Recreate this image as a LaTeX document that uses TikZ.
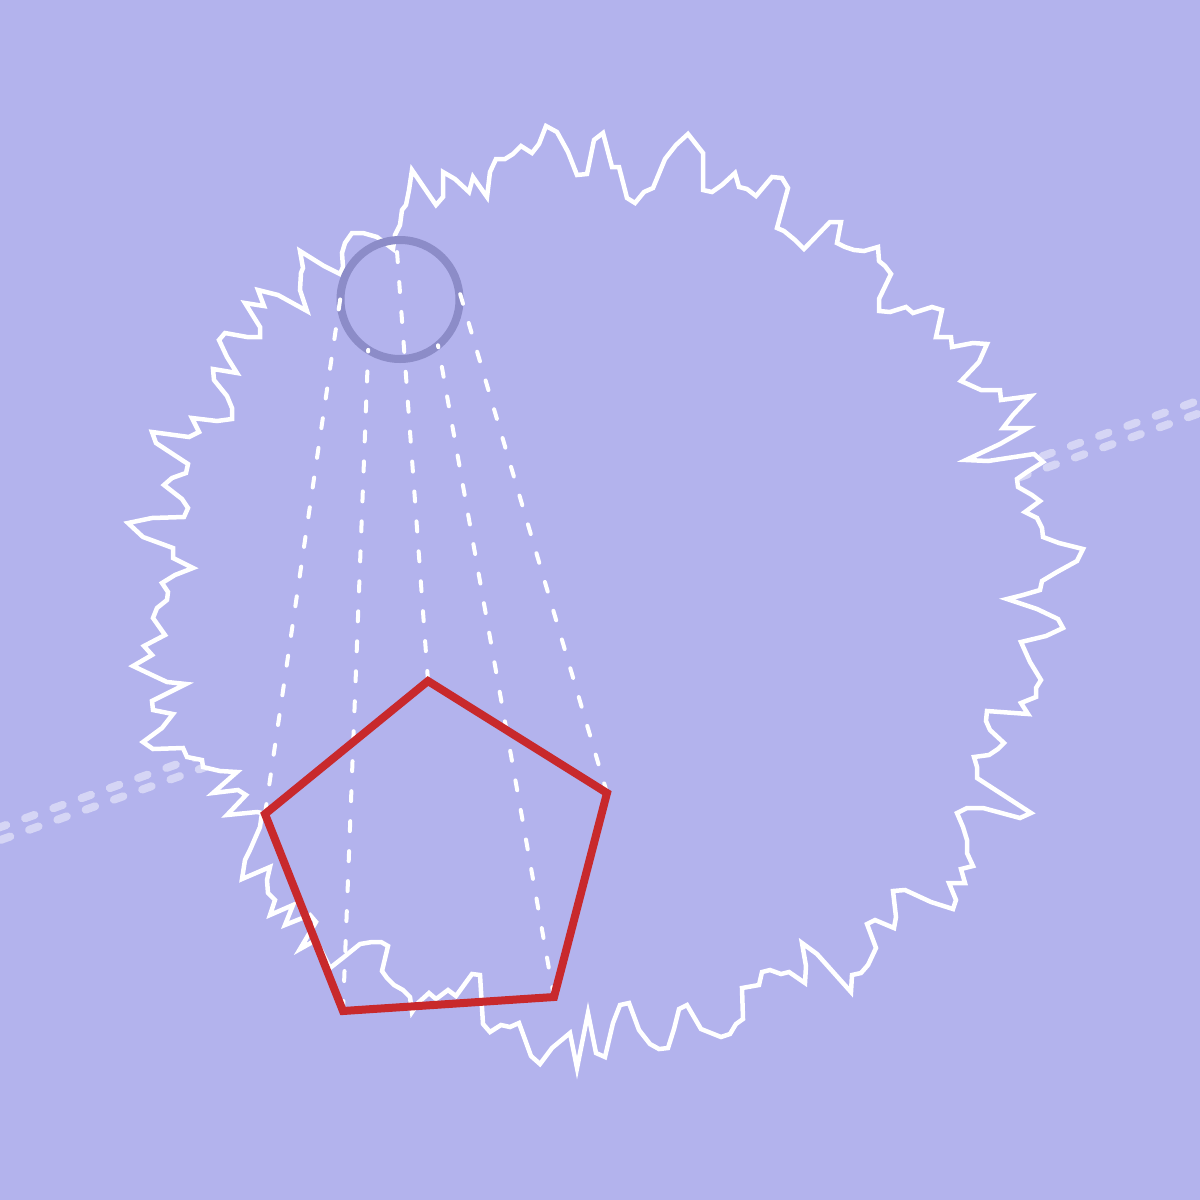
\documentclass[tikz,border=0pt]{standalone}
\usetikzlibrary{calc}
\definecolor{bgcol}{HTML}{B3B3ED}
\definecolor{ringcol}{HTML}{8C8CC8}
\definecolor{pentcol}{HTML}{C8292C}
\tikzset{
  outlinestyle/.style={draw=white, fill=bgcol, line width=4.5pt, line join=miter},
  ringstyle/.style={draw=ringcol, line width=8pt},
  projline/.style={draw=white, line width=4pt, line cap=round, dash pattern=on 10pt off 20pt},
  trackline/.style={draw=white, draw opacity=0.45, line width=8pt, line cap=round, dash pattern=on 10pt off 20pt, dash phase=10pt},
  pentstyle/.style={draw=pentcol, line width=8pt, line join=miter},
}
\begin{document}
\begin{tikzpicture}[x=1pt,y=-1pt]
\useasboundingbox (0,0) rectangle (1200,1200);
\fill[bgcol] (0,0) rectangle (1200,1200);
% track (double dashed)
\coordinate (tu1) at (-22.04,835.05);
\coordinate (tu2) at (1217.96,393.65);
\coordinate (tl1) at (-17.96,846.55);
\coordinate (tl2) at (1222.04,405.15);
\draw[trackline] (tu1) -- (tu2);
\draw[trackline] (tl1) -- (tl2);
% jagged outline
\path[outlinestyle] (393,249) -- (395,235) -- (400,225) -- (402,210) -- (406,205) -- (409,190) -- (412,170) -- (436,205) -- (443,197) -- (443,172) -- (455,179) -- (469,192) -- (473,177) -- (487,197) -- (490,172) -- (496,159) -- (505,159) -- (513,154) -- (521,146) -- (532,153) -- (539,144) -- (546,126) -- (557,132) -- (568,152) -- (577,175) -- (587,174) -- (594,140) -- (603,133) -- (612,167) -- (619,167) -- (627,198) -- (635,203) -- (644,192) -- (653,188) -- (665,159) -- (676,145) -- (688,134) -- (703,153) -- (703,190) -- (712,192) -- (722,185) -- (735,173) -- (739,187) -- (747,189) -- (756,196) -- (772,177) -- (782,178) -- (788,188) -- (777,228) -- (784,231) -- (795,240) -- (804,249) -- (830,222) -- (841,222) -- (837,243) -- (845,247) -- (854,250) -- (864,251) -- (878,247) -- (879,261) -- (885,266) -- (891,274) -- (879,299) -- (879,311) -- (890,312) -- (906,307) -- (913,313) -- (932,307) -- (942,310) -- (936,337) -- (951,337) -- (952,347) -- (973,343) -- (987,344) -- (979,362) -- (961,381) -- (981,390) -- (1000,390) -- (1001,400) -- (1031,396) -- (1013,415) -- (1003,428) -- (1028,428) -- (1000,444) -- (966,460) -- (988,461) -- (1034,454) -- (1043,462) -- (1027,472) -- (1017,479) -- (1018,487) -- (1032,495) -- (1040,501) -- (1025,512) -- (1037,518) -- (1042,528) -- (1043,537) -- (1059,543) -- (1083,549) -- (1077,561) -- (1057,572) -- (1042,581) -- (1040,590) -- (1023,595) -- (1007,599) -- (1037,609) -- (1058,619) -- (1063,628) -- (1046,636) -- (1021,642) -- (1030,662) -- (1041,680) -- (1036,688) -- (1036,697) -- (1021,703) -- (1028,714) -- (987,711) -- (986,721) -- (990,730) -- (1004,743) -- (998,749) -- (989,755) -- (974,757) -- (977,767) -- (977,778) -- (1031,813) -- (1020,818) -- (983,808) -- (967,808) -- (957,813) -- (963,827) -- (967,840) -- (967,853) -- (973,866) -- (961,869) -- (965,883) -- (949,883) -- (956,900) -- (953,909) -- (931,902) -- (905,890) -- (893,891) -- (896,917) -- (894,928) -- (875,920) -- (867,924) -- (876,948) -- (868,965) -- (861,973) -- (852,975) -- (851,992) -- (817,954) -- (802,943) -- (806,966) -- (805,983) -- (789,972) -- (781,974) -- (770,970) -- (762,972) -- (759,985) -- (742,988) -- (743,1019) -- (736,1024) -- (730,1034) -- (721,1037) -- (701,1029) -- (687,1005) -- (679,1009) -- (674,1029) -- (668,1048) -- (659,1049) -- (650,1044) -- (639,1030) -- (629,1003) -- (620,1005) -- (613,1023) -- (605,1057) -- (596,1053) -- (588,1013) -- (577,1068) -- (570,1033) -- (552,1048) -- (540,1064) -- (531,1056) -- (519,1023) -- (510,1027) -- (501,1025) -- (490,1032) -- (483,1024) -- (480,975) -- (472,974) -- (456,996) -- (448,990) -- (436,999) -- (429,993) -- (418,1003) -- (412,1012) -- (410,997) -- (403,990) -- (394,985) -- (387,978) -- (382,971) -- (388,946) -- (381,942) -- (372,942) -- (360,944) -- (344,957) -- (330,968) -- (316,940) -- (300,949) -- (316,922) -- (310,915) -- (285,925) -- (293,905) -- (270,915) -- (275,900) -- (268,893) -- (267,880) -- (270,867) -- (242,879) -- (245,860) -- (250,850) -- (260,827) -- (262,813) -- (257,812) -- (227,815) -- (246,795) -- (238,790) -- (213,793) -- (237,772) -- (220,771) -- (203,767) -- (202,760) -- (187,757) -- (183,748) -- (153,749) -- (143,742) -- (162,728) -- (173,714) -- (153,710) -- (152,701) -- (186,684) -- (167,682) -- (152,675) -- (133,666) -- (152,655) -- (144,646) -- (165,635) -- (153,618) -- (157,608) -- (167,600) -- (168,592) -- (162,583) -- (175,575) -- (193,568) -- (173,558) -- (173,548) -- (143,537) -- (128,523) -- (152,518) -- (184,517) -- (188,508) -- (182,499) -- (164,485) -- (172,478) -- (186,473) -- (188,464) -- (156,443) -- (152,432) -- (189,437) -- (199,432) -- (192,418) -- (217,421) -- (232,419) -- (232,408) -- (227,396) -- (214,380) -- (213,369) -- (237,373) -- (227,357) -- (219,340) -- (225,333) -- (247,337) -- (260,337) -- (260,327) -- (245,303) -- (264,306) -- (258,290) -- (278,295) -- (307,311) -- (300,290) -- (301,273) -- (303,268) -- (300,251) -- (324,266) -- (340,274) -- (343,267) -- (342,253) -- (345,243) -- (352,233) -- (363,233) -- (377,237) -- cycle;
% ring
\node[circle, ringstyle, minimum size=119pt, inner sep=0pt] (ring) at (400,299.5) {};
% points on ring
\coordinate (c1) at (396.2,240.1);
\coordinate (c2) at (455.3,277.5);
\coordinate (c3) at (438.0,345.3);
\coordinate (c4) at (368.2,349.8);
\coordinate (c5) at (342.3,284.8);
% pentagon vertices
\coordinate (p1) at (428,681);
\coordinate (p2) at (607,793);
\coordinate (p3) at (554,997);
\coordinate (p4) at (343,1011);
\coordinate (p5) at (265,814);
% projection lines
\draw[projline] (p1) -- (c1);
\draw[projline] (p2) -- (c2);
\draw[projline] (p3) -- (c3);
\draw[projline] (p4) -- (c4);
\draw[projline] (p5) -- (c5);
% pentagon
\draw[pentstyle] (p1) -- (p2) -- (p3) -- (p4) -- (p5) -- cycle;
\end{tikzpicture}
\end{document}
